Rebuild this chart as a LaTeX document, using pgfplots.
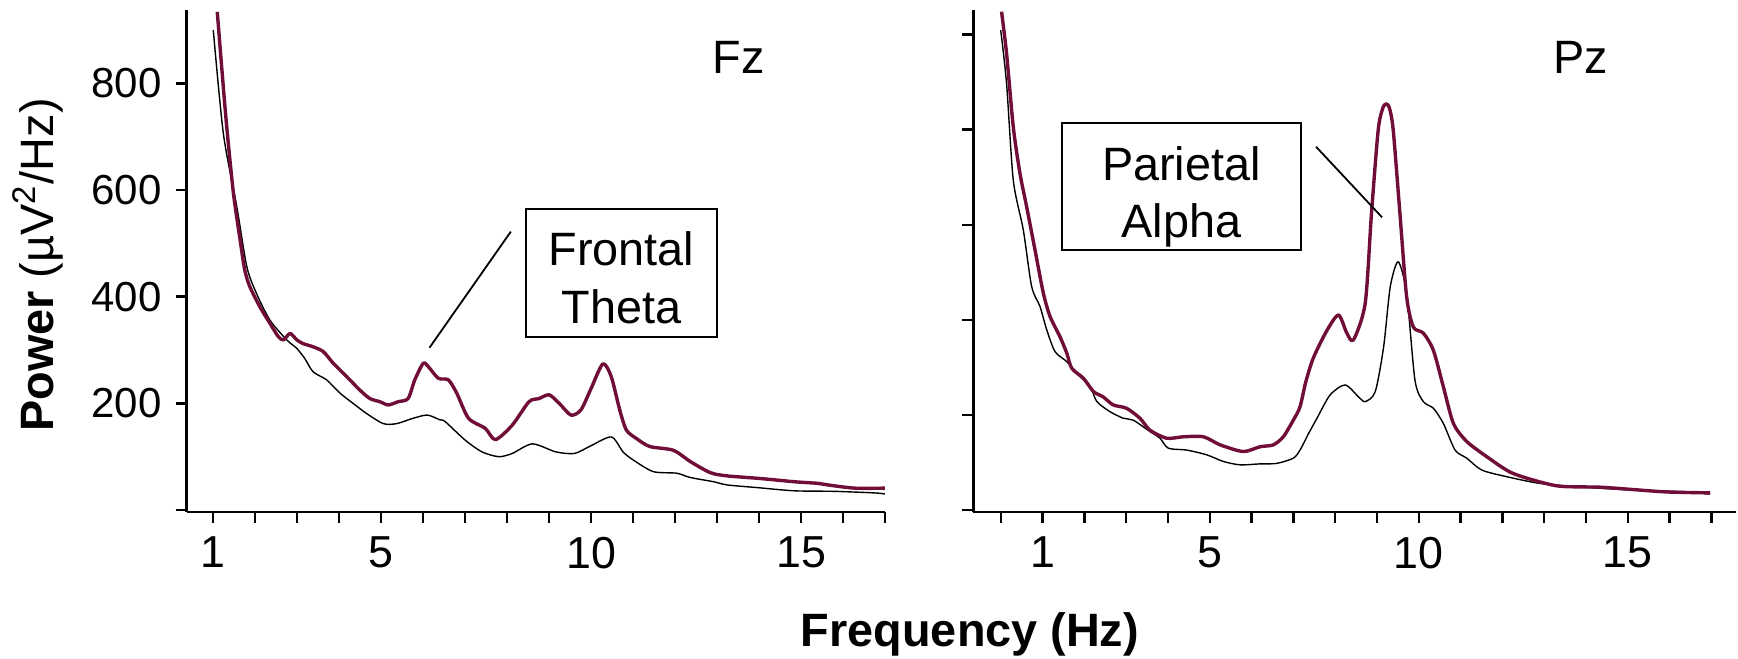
\documentclass[border=0pt]{standalone}
\usepackage{pgfplots}
\pgfplotsset{compat=1.18}
\usepackage{pgfplotstable}
\usepackage{fontspec}
\setmainfont{Liberation Sans}
\definecolor{wine}{RGB}{112,14,56}
\definecolor{thin}{RGB}{55,55,55}

\pgfplotstableread{
x y
1.095 934
1.20 831
1.32 719
1.48 594
1.64 506
1.75 450
1.87 419
2.11 381
2.35 350
2.55 325
2.67 319
2.83 331
2.99 319
3.14 312
3.38 306
3.62 297
3.86 275
4.18 250
4.49 225
4.73 209
4.97 203
5.17 197
5.40 203
5.64 209
5.80 244
6.00 275
6.12 269
6.36 247
6.60 244
6.80 219
7.08 172
7.48 153
7.72 132
8.12 159
8.52 203
8.76 209
9.00 216
9.24 200
9.52 178
9.76 188
10.00 228
10.28 274
10.48 250
10.68 188
10.84 150
11.08 134
11.40 119
11.96 112
12.36 91
12.84 70
13.24 64
14.04 59
14.84 53
15.40 50
15.64 47
16.28 41
17.00 41
}\fzred

\pgfplotstableread{
x y
1.00 900
1.24 706
1.56 569
1.80 456
2.03 406
2.35 356
2.75 319
2.99 303
3.18 284
3.38 259
3.70 244
4.02 219
4.33 200
4.65 181
5.05 162
5.37 162
5.76 172
6.10 178
6.40 169
6.52 166
7.00 131
7.40 109
7.80 100
8.12 106
8.60 124
9.16 109
9.60 106
9.96 119
10.48 137
10.76 109
11.00 94
11.48 72
12.04 69
12.36 61
12.92 53
13.24 47
13.96 42
14.84 36
15.80 35
16.76 32
17.00 30
}\fzgray

\pgfplotstableread{
x y
0.02 1048
0.14 960
0.30 806
0.46 708
0.62 638
0.82 547
1.02 456
1.18 407
1.42 364
1.58 330
1.70 298
1.98 277
2.22 249
2.45 238
2.69 221
3.01 214
3.33 193
3.57 168
3.97 151
4.37 154
4.85 154
5.25 137
5.80 123
6.20 133
6.52 137
6.76 154
7.00 189
7.16 217
7.30 270
7.48 320
7.80 377
8.08 410
8.28 372
8.44 358
8.72 435
8.87 624
9.03 799
9.14 845
9.22 854
9.30 845
9.39 799
9.55 624
9.71 449
9.87 385
10.11 372
10.35 336
10.59 259
10.83 182
11.15 144
11.63 112
12.18 80
12.74 63
13.38 50
14.34 48
15.13 43
15.93 38
16.97 36
}\pzred

\pgfplotstableread{
x y
0.00 1009
0.14 897
0.30 694
0.54 589
0.74 470
0.94 428
1.10 379
1.30 333
1.58 312
1.82 287
2.14 259
2.30 228
2.61 207
2.93 193
3.17 189
3.57 165
3.81 151
4.01 130
4.45 126
4.93 116
5.33 102
5.73 95
6.20 97
6.60 98
7.00 109
7.16 126
7.36 160
7.56 192
7.88 242
8.24 263
8.56 238
8.72 228
8.96 249
9.16 343
9.32 470
9.51 522
9.71 456
9.91 273
10.11 228
10.35 214
10.59 182
10.87 126
11.15 109
11.51 84
12.11 70
12.90 56
13.94 48
15.13 42
16.33 38.5
16.97 33.6
}\pzgray

\tikzset{
  big/.style={font=\fontsize{11.7}{14}\selectfont},
  redline/.style={wine, line width=0.85pt, line join=round, smooth, tension=0.45},
  grayline/.style={thin, line width=0.35pt, line join=round, smooth, tension=0.45},
}
\pgfplotsset{
  panel/.style={
    scale only axis,
    anchor=south west,
    height=125.5pt,
    axis lines=left,
    axis line style={-, line width=0.7pt, black},
    tick style={line width=0.6pt, black},
    tick align=outside,
    major tick length=2.75pt,
    xticklabel style={font=\fontsize{11.2}{13}\selectfont},
    yticklabel style={font=\fontsize{10.5}{12}\selectfont},
    /pgf/number format/assume math mode=true,
  },
}

\begin{document}
\begin{tikzpicture}
\path[use as bounding box] (0pt,0pt) rectangle (434.5pt,164.5pt);

\begin{axis}[panel,
  at={(46.675pt,36.5pt)}, width=174.575pt,
  xmin=0.367, xmax=17, ymin=-3.75, ymax=937.5,
  xtick={1,2,...,17},
  xticklabels={1,,,,5,,,,,10,,,,,15,,},
  ytick={0,200,400,600,800},
  yticklabels={,200,400,600,800},
]
\addplot[grayline] table[x=x,y=y] {\fzgray};
\addplot[redline] table[x=x,y=y] {\fzred};
\draw[line width=0.45pt] (axis cs:8.445,564.4) rectangle (axis cs:12.993,325);
\node[big, anchor=base] at (axis cs:10.72,459.4) {Frontal};
\node[big, anchor=base] at (axis cs:10.72,350) {Theta};
\draw[line width=0.45pt] (axis cs:8.088,522) -- (axis cs:6.15,304.3);
\node[big, anchor=base] at (axis cs:13.517,819.4) {Fz};
\end{axis}

\begin{axis}[panel,
  at={(243.325pt,36.5pt)}, width=190.675pt,
  xmin=-0.656, xmax=17.59, ymin=-4.2, ymax=1051.5,
  xtick={0,1,...,17},
  xticklabels={,1,,,,5,,,,,10,,,,,15,,},
  ytick={0,200,400,600,800,1000},
  yticklabels={},
]
\addplot[grayline] table[x=x,y=y] {\pzgray};
\addplot[redline] table[x=x,y=y] {\pzred};
\draw[line width=0.45pt] (axis cs:1.474,814.5) rectangle (axis cs:7.177,546.8);
\node[big, anchor=base] at (axis cs:4.325,694) {Parietal};
\node[big, anchor=base] at (axis cs:4.325,573.5) {Alpha};
\draw[line width=0.45pt] (axis cs:7.543,764) -- (axis cs:9.122,615.6);
\node[big, anchor=base] at (axis cs:13.88,919) {Pz};
\end{axis}

\node[rotate=90, anchor=base, big] at (13.325pt,98.25pt) {\textbf{Power} (µV\textsuperscript{2}/Hz)};
\node[anchor=base, big] at (242.5pt,3pt) {\textbf{Frequency (Hz)}};
\end{tikzpicture}
\end{document}
